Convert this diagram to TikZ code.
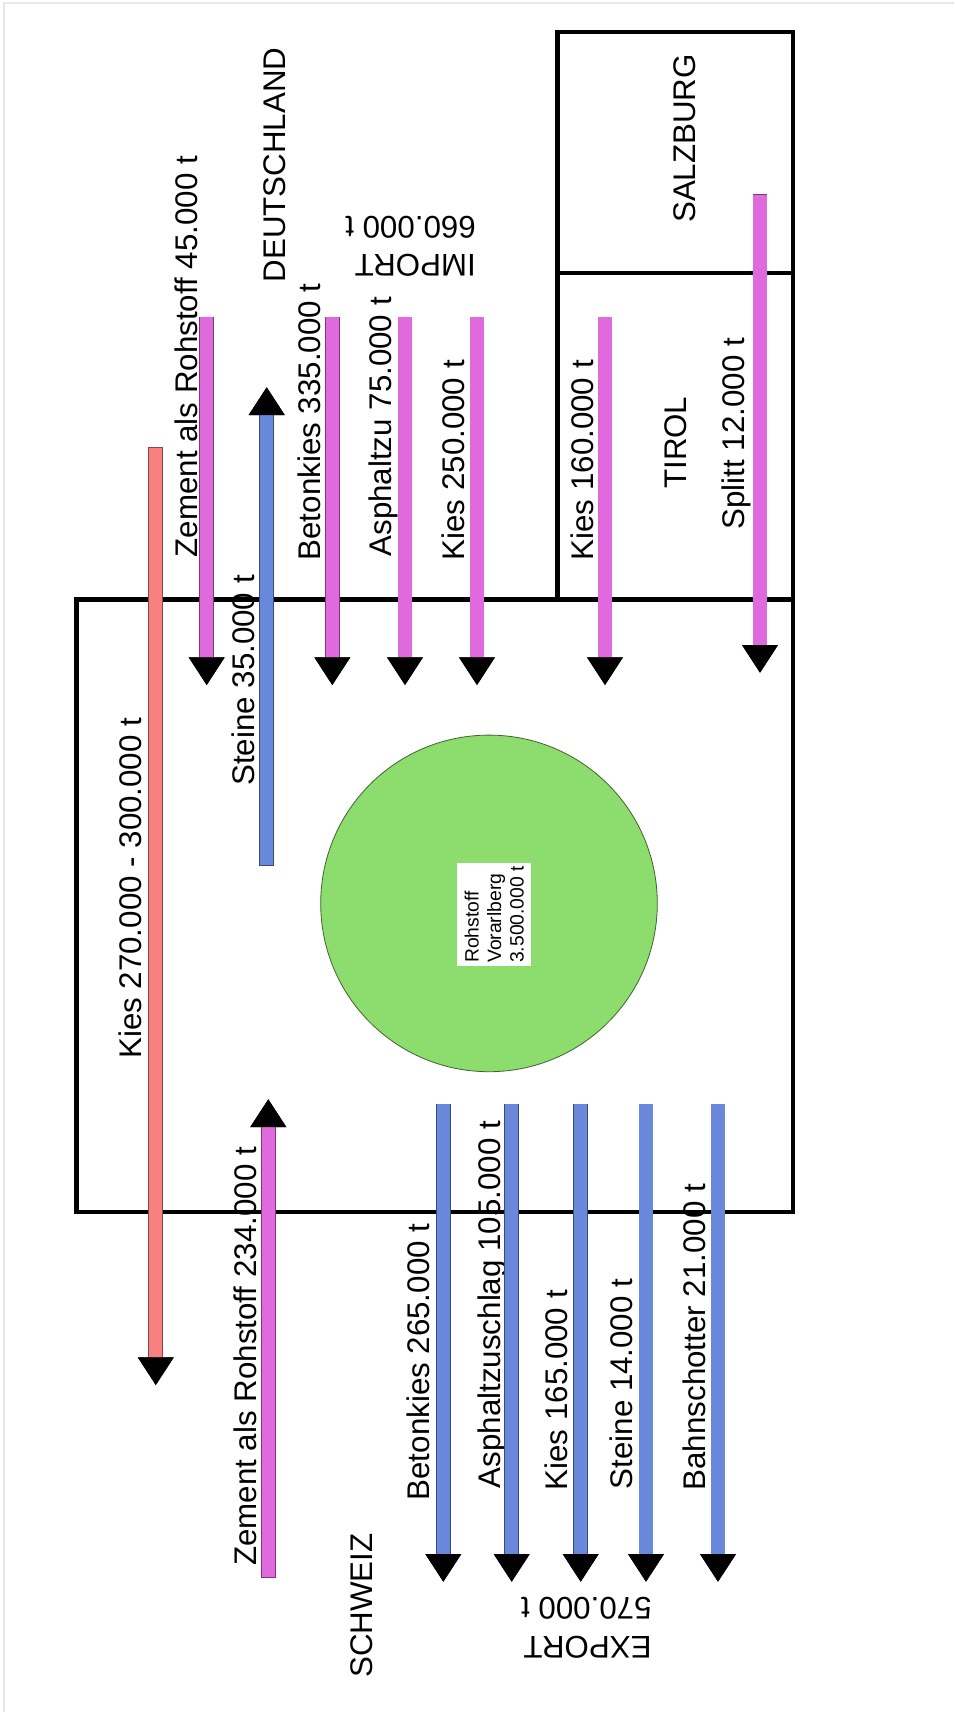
\documentclass[tikz,border=0pt]{standalone}
\usepackage{fontspec}
\setmainfont{Liberation Sans}
\usetikzlibrary{arrows.meta}
\definecolor{imppink}{RGB}{222,106,222}
\definecolor{expblue}{RGB}{106,136,219}
\definecolor{transred}{RGB}{249,128,128}
\definecolor{stockgreen}{RGB}{140,220,110}
\definecolor{framegray}{RGB}{232,232,232}
\newcommand\flowfont{\fontsize{31.3}{38.8}\selectfont}
\newcommand\stockfont{\fontsize{19.3}{22.5}\selectfont}

\begin{document}
\begin{tikzpicture}[x=1pt,y=-1pt,
    >={Triangle[width=36pt,length=27.7pt,line width=0pt,black]},
    flow/.style={line width=13.3pt,draw=#1,
      preaction={draw=#1!55!black,line width=14.9pt,shorten <=-0.8pt}},
    region/.style={draw,line width=4.5pt,inner sep=0pt,outer sep=0pt},
    lbl/.style={font=\flowfont,inner sep=0pt,rotate=90,anchor=base west},
    flipped/.style={font=\flowfont,inner sep=0pt,rotate=180,align=left,
      anchor=north west}]
  \useasboundingbox (0,0) rectangle (954,1712);
  \draw[framegray,line width=2pt] (3.5,1712) -- (3.5,3.5) -- (954,3.5);

  \node[region,minimum width=716.9pt,minimum height=612.7pt] (vbg) at (434.75,905.85) {};
  \node[region,minimum width=235.7pt,minimum height=326.5pt] (tirol) at (675.35,436.25) {};
  \node[region,minimum width=235.7pt,minimum height=241.2pt] (sbg) at (675.35,152.4) {};
  \node[circle,fill=stockgreen,draw=stockgreen!45!black,line width=0.8pt,
        minimum size=336.6pt,inner sep=0pt] (stock) at (489,903.4) {};
  \node[fill=white,rotate=90,font=\stockfont,align=left,inner sep=0pt,
        minimum width=102.4pt,minimum height=73.7pt] (stocklbl) at (494.2,914.5)
        {Rohstoff\\Vorarlberg\\3.500.000 t};

  \node[lbl] (lkies) at (141.2,1059) {Kies 270.000 - 300.000 t};
  \node[lbl] (lzem45) at (197,557.5) {Zement als Rohstoff 45.000 t};
  \node[lbl] (lde) at (285.4,282.5) {DEUTSCHLAND};
  \node[lbl] (lst35) at (254.6,786) {Steine 35.000 t};
  \node[lbl] (lbet335) at (320.4,560.5) {Betonkies 335.000 t};
  \node[lbl] (lasph75) at (391.2,556.7) {Asphaltzu 75.000 t};
  \node[lbl] (lk250) at (464.6,560.5) {Kies 250.000 t};
  \node[lbl] (lk160) at (593,560.5) {Kies 160.000 t};
  \node[lbl] (ltirol) at (686.3,489) {TIROL};
  \node[lbl] (lsplitt) at (744.6,529.5) {Splitt 12.000 t};
  \node[lbl] (lsbg) at (695.4,223) {SALZBURG};
  \node[lbl] (lch) at (372,1678) {SCHWEIZ};
  \node[lbl] (lzem234) at (256.2,1566) {Zement als Rohstoff 234.000 t};
  \node[lbl] (lbet265) at (429.6,1500.5) {Betonkies 265.000 t};
  \node[lbl] (lasph105) at (500.4,1488.3) {Asphaltzuschlag 105.000 t};
  \node[lbl] (lk165) at (567.9,1490.5) {Kies 165.000 t};
  \node[lbl] (lst14) at (632.9,1489.5) {Steine 14.000 t};
  \node[lbl] (lbahn) at (705.4,1490.5) {Bahnschotter 21.000 t};
  \node[flipped] (limp) at (476,277) {IMPORT\\660.000 t};
  \node[flipped] (lexp) at (651.8,1658.4) {EXPORT\\570.000 t};

  \coordinate (z45a) at (206.7,317.3);  \coordinate (z45b) at (206.7,685);
  \coordinate (b335a) at (332.3,317.3); \coordinate (b335b) at (332.3,685);
  \coordinate (a75a) at (405,317.3);    \coordinate (a75b) at (405,685);
  \coordinate (k250a) at (477,317.3);   \coordinate (k250b) at (477,685);
  \coordinate (k160a) at (605,317.3);   \coordinate (k160b) at (605,685);
  \coordinate (s12a) at (760,195);      \coordinate (s12b) at (760,672.7);
  \coordinate (k270a) at (155.8,447.7); \coordinate (k270b) at (155.8,1385);
  \coordinate (s35a) at (266.7,865);    \coordinate (s35b) at (266.7,387.3);
  \coordinate (z234a) at (268.3,1576.7); \coordinate (z234b) at (268.3,1099.3);
  \coordinate (b265a) at (443.3,1104.3); \coordinate (b265b) at (443.3,1581.7);
  \coordinate (a105a) at (511.7,1104.3); \coordinate (a105b) at (511.7,1581.7);
  \coordinate (k165a) at (580.7,1104.3); \coordinate (k165b) at (580.7,1581.7);
  \coordinate (s14a) at (646,1104.3);    \coordinate (s14b) at (646,1581.7);
  \coordinate (bs21a) at (718,1104.3);   \coordinate (bs21b) at (718,1581.7);

  \draw[->,flow=transred] (k270a) -- (k270b);
  \draw[->,flow=imppink] (z45a) -- (z45b);
  \draw[->,flow=imppink] (b335a) -- (b335b);
  \draw[->,flow=imppink] (a75a) -- (a75b);
  \draw[->,flow=imppink] (k250a) -- (k250b);
  \draw[->,flow=imppink] (k160a) -- (k160b);
  \draw[->,flow=imppink] (s12a) -- (s12b);
  \draw[->,flow=expblue] (s35a) -- (s35b);
  \draw[->,flow=imppink] (z234a) -- (z234b);
  \draw[->,flow=expblue] (b265a) -- (b265b);
  \draw[->,flow=expblue] (a105a) -- (a105b);
  \draw[->,flow=expblue] (k165a) -- (k165b);
  \draw[->,flow=expblue] (s14a) -- (s14b);
  \draw[->,flow=expblue] (bs21a) -- (bs21b);
\end{tikzpicture}
\end{document}
